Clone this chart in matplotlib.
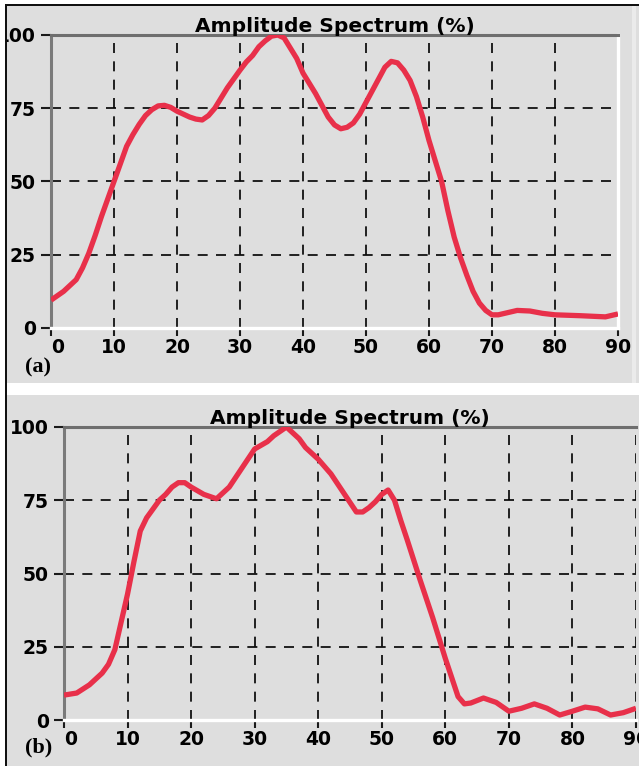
import matplotlib
matplotlib.use("Agg")
import matplotlib.pyplot as plt
from matplotlib.patches import Rectangle

# panel (a) spectrum
a_freq = [0, 1, 2, 3, 4, 5, 6, 7, 8, 9, 10, 11, 12, 13, 14, 15, 16, 17, 18, 19, 20,
          21, 22, 23, 24, 25, 26, 27, 28, 29, 30, 31, 32, 33, 34, 35, 36, 37, 38, 39,
          40, 41, 42, 43, 44, 45, 46, 47, 48, 49, 50, 51, 52, 53, 54, 55, 56, 57, 58,
          59, 60, 61, 62, 63, 64, 65, 66, 67, 68, 69, 70, 71, 72, 74, 76, 78, 80, 84,
          88, 90]
a_amp = [9.5, 11, 12.5, 14.5, 16.5, 20.5, 25.5, 31.5, 38, 44, 50, 56, 62, 66, 69.5,
         72.5, 74.5, 75.8, 76, 75.3, 74, 73, 72, 71.3, 71, 72.5, 75, 78.5, 82, 85, 88,
         90.8, 93, 96, 98, 99.6, 100, 99, 95.5, 92, 87, 83.5, 80, 76, 72, 69.3, 68,
         68.5, 70, 73, 77, 81, 85, 89, 91, 90.5, 88, 84.5, 79, 72, 64, 57, 50, 40, 31,
         24, 18, 12.5, 8.5, 6, 4.5, 4.5, 5, 6, 5.8, 5, 4.5, 4.2, 3.8, 4.8]

# panel (b) spectrum
b_freq = [0, 2, 4, 6, 7, 8, 9, 10, 11, 12, 13, 14, 15, 16, 17, 18, 19, 20, 22, 24, 26,
          28, 30, 32, 33, 34, 35, 36, 37, 38, 40, 42, 44, 46, 47, 48, 49, 50, 51, 52,
          53, 54, 56, 58, 60, 62, 63, 64, 66, 68, 70, 72, 74, 76, 78, 80, 82, 84, 86,
          88, 90]
b_amp = [8.5, 9.2, 12, 16, 19, 24, 33.5, 43, 54, 64.5, 69, 72, 75, 77, 79.5, 81, 81,
         79.5, 77, 75.5, 79.5, 86, 92.5, 95, 97, 98.5, 100, 98, 96, 93, 89, 84, 77.5,
         71, 71, 72.5, 74.5, 77, 78.5, 75, 68, 61.5, 48, 35, 21, 8, 5.5, 5.8, 7.5, 6,
         3, 4, 5.5, 4, 1.7, 3, 4.4, 3.8, 1.7, 2.5, 4]

x_ticks = [0, 10, 20, 30, 40, 50, 60, 70, 80, 90]
y_ticks = [0, 25, 50, 75, 100]
title = "Amplitude Spectrum (%)"

W, H = 639, 766
bg = "#dedede"
red = "#e8304a"


def fx(px):
    return px / W


def fy(py):
    return 1 - py / H


fig = plt.figure(figsize=(W / 100, H / 100), dpi=100, facecolor="white")

# gray panels behind the axes
for top, bot in [(6, 383), (395, 766)]:
    fig.add_artist(Rectangle((fx(7), fy(bot)), fx(W) - fx(7), fy(top) - fy(bot),
                             transform=fig.transFigure, facecolor=bg,
                             edgecolor="none", zorder=-10))
fig.add_artist(Rectangle((fx(632), fy(383)), fx(4), fy(6) - fy(383),
                         transform=fig.transFigure, facecolor="#ebebeb",
                         edgecolor="none", zorder=-9))


def panel(rect, freq, amp, right_spine):
    ax = fig.add_axes(rect)
    ax.set_facecolor(bg)
    ax.plot(freq, amp, color=red, lw=3.8, solid_capstyle="butt",
            solid_joinstyle="round", zorder=3)
    ax.set_xlim(0, 90)
    ax.set_ylim(0, 100)
    ax.set_xticks(x_ticks, [str(t) for t in x_ticks])
    ax.set_yticks(y_ticks, [str(t) for t in y_ticks])
    ax.grid(True, color="black", lw=1.2, linestyle=(0, (6, 5)))
    ax.spines["left"].set_color("#7a7a7a")
    ax.spines["left"].set_linewidth(2.2)
    ax.spines["top"].set_color("#6e6e6e")
    ax.spines["top"].set_linewidth(2.2)
    ax.spines["bottom"].set_color("white")
    ax.spines["bottom"].set_linewidth(2.4)
    if right_spine:
        ax.spines["right"].set_color("white")
        ax.spines["right"].set_linewidth(2.4)
    else:
        ax.spines["right"].set_visible(False)
    ax.tick_params(axis="y", direction="out", length=7, width=1.5, color="#1a1a1a",
                   pad=4, labelsize=13.5)
    ax.tick_params(axis="x", direction="out", length=6, width=1.5, color="#1a1a1a",
                   pad=1.5, labelsize=13.5)
    for lab in ax.get_xticklabels() + ax.get_yticklabels():
        lab.set_fontweight("bold")
        lab.set_family("DejaVu Sans")
    ax.get_xticklabels()[0].set_ha("left")
    ax.annotate(title, xy=(0.5, 1), xycoords="axes fraction", xytext=(0, 2.5),
                textcoords="offset points", ha="center", va="baseline",
                fontsize=14.5, fontweight="bold", family="DejaVu Sans", zorder=5)
    return ax


panel([fx(51), fy(328), fx(618) - fx(51), fy(35) - fy(328)], a_freq, a_amp, True)
panel([fx(64), fy(720), fx(636) - fx(64), fy(427) - fy(720)], b_freq, b_amp, False)

fig.text(fx(25), fy(372), "(a)", family="Liberation Serif", fontweight="bold",
         fontsize=16, va="baseline")
fig.text(fx(25), fy(752), "(b)", family="Liberation Serif", fontweight="bold",
         fontsize=16, va="baseline")

# outer frame: white margin, black edges
fig.add_artist(Rectangle((0, 0), fx(5), 1, transform=fig.transFigure,
                         facecolor="white", edgecolor="none", zorder=10))
fig.add_artist(Rectangle((fx(5), 0), fx(2), fy(4), transform=fig.transFigure,
                         facecolor="#111111", edgecolor="none", zorder=11))
fig.add_artist(Rectangle((fx(5), fy(6)), 1, fy(4) - fy(6), transform=fig.transFigure,
                         facecolor="#111111", edgecolor="none", zorder=11))

fig.savefig("out.png", dpi=100, facecolor="white")
